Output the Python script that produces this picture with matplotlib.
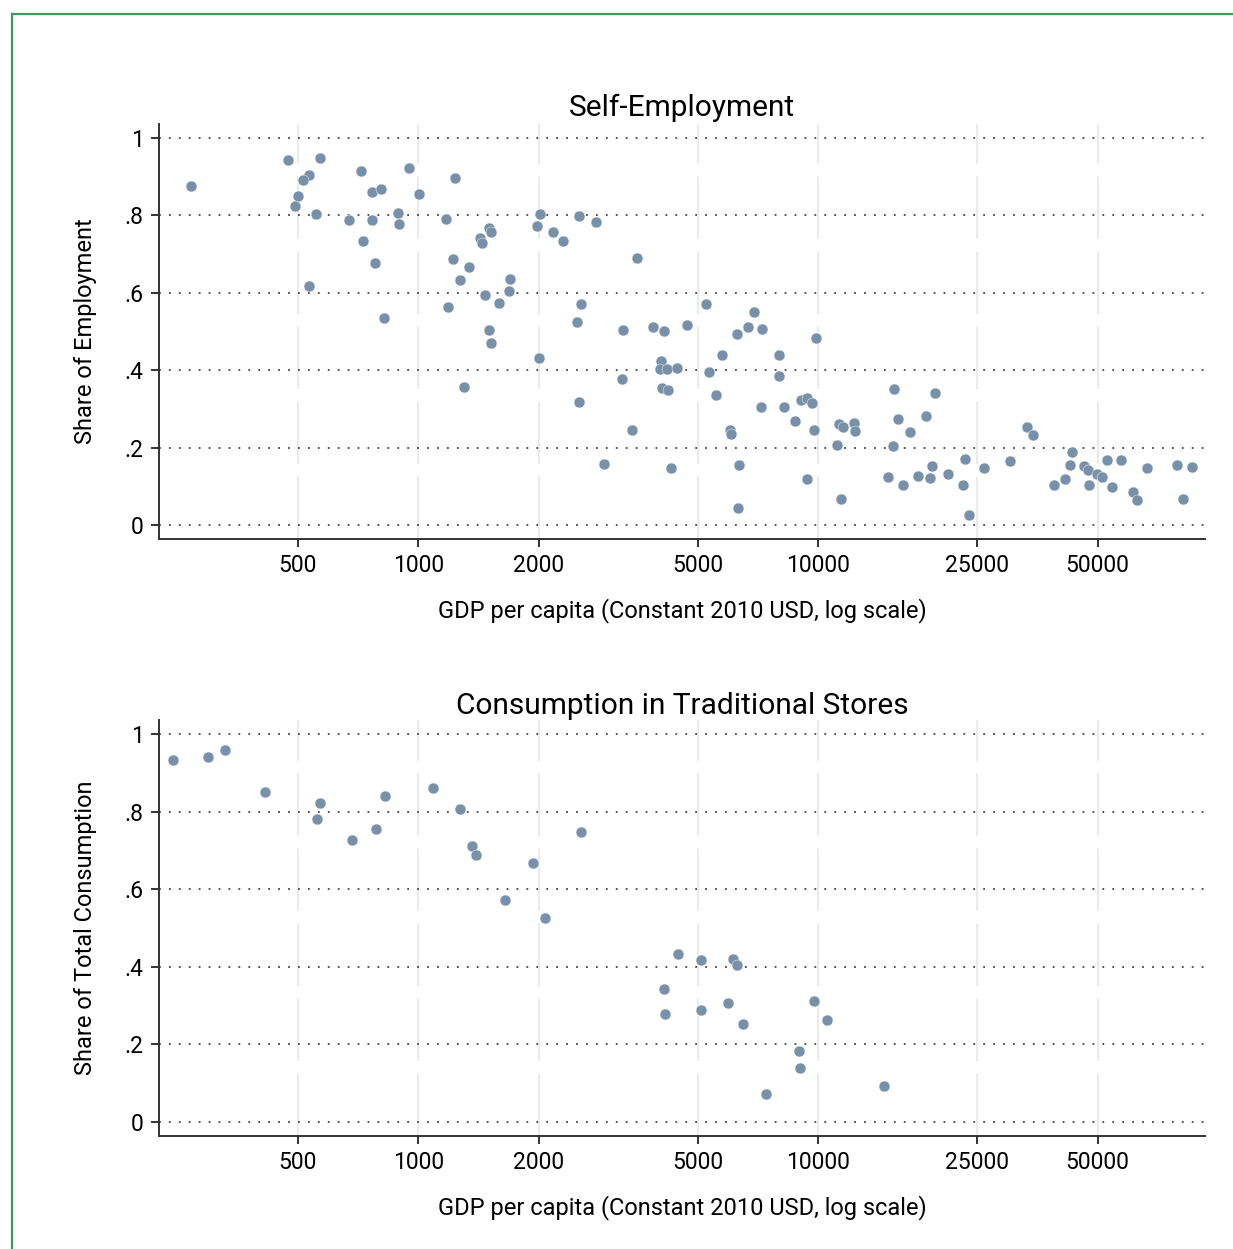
import numpy as np
import matplotlib
matplotlib.use('Agg')
import matplotlib.pyplot as plt
from matplotlib.lines import Line2D

plt.rcParams['font.family'] = ['Roboto', 'DejaVu Sans']

# Self-employment: GDP per capita and share of employment
self_gdp = [270, 474, 569, 532, 516, 501, 491, 555, 533, 721,
            767, 808, 950, 1006, 1233, 673, 766, 889, 896, 729,
            781, 822, 1172, 1507, 1524, 1429, 1448, 1223, 1343, 1271,
            1698, 1689, 1472, 1186, 1592, 1504, 1520, 1300, 2004, 2014,
            1984, 2178, 2301, 2527, 2786, 3528, 2553, 2498, 3260, 3873,
            4111, 4699, 5248, 6934, 6699, 7261, 6266, 9908, 5745, 8000,
            4045, 4027, 4198, 4446, 5333, 7980, 3236, 4083, 4207, 5559,
            2527, 9078, 9386, 9638, 7211, 8241, 8770, 9750, 3420, 6039,
            6053, 11288, 11564, 12331, 12388, 11134, 2924, 4291, 6346, 9376,
            11402, 6295, 15453, 19634, 15812, 18621, 16943, 15382, 14928, 16313,
            17783, 19231, 19055, 21184, 23335, 23041, 23850, 25942, 30269, 33266,
            34435, 43053, 42756, 38994, 41448, 46238, 47424, 47534, 49774, 51168,
            52782, 54325, 57148, 61306, 62733, 66374, 78886, 85901, 81752]
self_share = [.875, .943, .949, .904, .891, .849, .824, .804, .618, .914,
              .860, .868, .923, .855, .897, .787, .787, .805, .777, .735,
              .678, .535, .791, .768, .756, .742, .728, .686, .667, .632,
              .636, .605, .593, .564, .574, .504, .471, .357, .432, .803,
              .773, .757, .735, .798, .782, .689, .572, .525, .505, .512,
              .501, .517, .571, .550, .512, .506, .494, .483, .439, .440,
              .425, .402, .403, .405, .395, .384, .378, .353, .349, .335,
              .319, .323, .329, .314, .306, .306, .269, .245, .245, .246,
              .236, .261, .254, .264, .244, .207, .158, .147, .155, .120,
              .067, .044, .351, .341, .275, .281, .240, .204, .124, .103,
              .127, .152, .121, .133, .171, .103, .027, .147, .165, .254,
              .233, .188, .154, .104, .118, .152, .143, .103, .133, .124,
              .168, .099, .169, .084, .064, .147, .155, .149, .066]

# Traditional stores: GDP per capita and share of total consumption
trad_gdp = [244, 299, 329, 414, 569, 560, 685, 784, 824, 1089,
            1271, 1365, 1393, 1939, 1650, 2080, 2556, 4457, 5100, 6131,
            6273, 4121, 4150, 5100, 5970, 6486, 9795, 10531, 8954, 9016,
            7413, 14655]
trad_share = [.934, .941, .959, .850, .821, .780, .727, .754, .839, .860,
              .808, .712, .689, .668, .573, .525, .747, .432, .417, .420,
              .405, .342, .278, .289, .307, .252, .313, .264, .183, .139,
              .073, .094]

xticks = [500, 1000, 2000, 5000, 10000, 25000, 50000]
yticks = [0, .2, .4, .6, .8, 1]
ytick_labels = ['0', '.2', '.4', '.6', '.8', '1']

MARKER = '#7990a9'
XLABEL = 'GDP per capita (Constant 2010 USD, log scale)'


def draw_panel(ax, xs, ys, title, ylabel, title_pad):
    ax.set_xscale('log')
    ax.set_xlim(225, 92800)
    ax.set_ylim(-0.036, 1.036)

    for t in xticks:
        ax.axvline(t, color='#ebebeb', lw=1.5, ls=(0, (30, 6)), zorder=0)
    for t in yticks:
        ax.axhline(t, color='#444444', lw=1.3, ls=(0, (1, 4.5)), zorder=1)

    ax.scatter(xs, ys, s=62, color=MARKER, edgecolors='white',
               linewidths=0.3, zorder=3)

    ax.set_xticks(xticks)
    ax.set_xticklabels([str(t) for t in xticks])
    ax.xaxis.set_minor_locator(matplotlib.ticker.NullLocator())
    ax.set_yticks(yticks)
    ax.set_yticklabels(ytick_labels)
    ax.tick_params(axis='both', labelsize=16.5, length=6, width=1.4,
                   color='#333333', pad=5)

    for side in ['top', 'right']:
        ax.spines[side].set_visible(False)
    for side in ['left', 'bottom']:
        ax.spines[side].set_color('#333333')
        ax.spines[side].set_linewidth(1.4)

    ax.set_title(title, fontsize=21.5, pad=title_pad)
    ax.set_ylabel(ylabel, fontsize=17, labelpad=20)
    ax.set_xlabel(XLABEL, fontsize=17, labelpad=15)


fig = plt.figure(figsize=(12.33, 12.49), dpi=100)
ax1 = fig.add_axes([0.129, 0.5685, 0.8483, 0.3322])
ax2 = fig.add_axes([0.129, 0.0905, 0.8483, 0.3330])

draw_panel(ax1, self_gdp, self_share, 'Self-Employment',
           'Share of Employment', 6)
draw_panel(ax2, trad_gdp, trad_share, 'Consumption in Traditional Stores',
           'Share of Total Consumption', 4)

# green frame on the left and top edge
fx = 12.5 / 1233
fy = 1 - 13.5 / 1249
fig.add_artist(Line2D([fx, fx], [0, fy], color='#3f9a62', lw=1.6,
                      transform=fig.transFigure))
fig.add_artist(Line2D([fx, 1], [fy, fy], color='#3f9a62', lw=1.6,
                      transform=fig.transFigure))

plt.savefig('out.png')
plt.close()
